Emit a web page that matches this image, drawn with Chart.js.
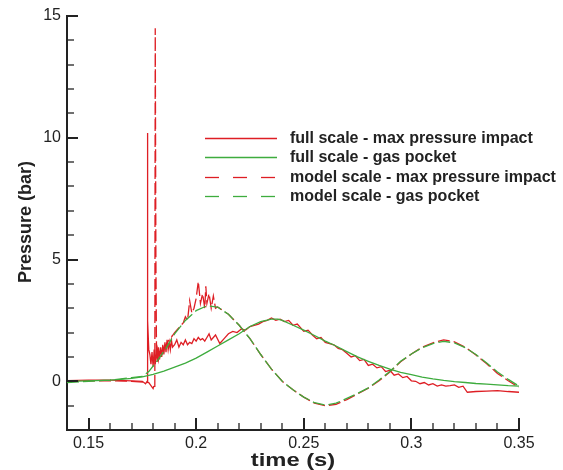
<!DOCTYPE html>
<html>
<head>
<meta charset="utf-8">
<script src="https://cdn.jsdelivr.net/npm/chart.js@4.4.1/dist/chart.umd.min.js"></script>
<style>
  html, body { margin: 0; padding: 0; background: #fff; }
  #wrap { width: 563px; height: 470px; }
</style>
</head>
<body>
<div id="wrap"><canvas id="pressureChart" width="563" height="470"></canvas></div>
<script>
// x axis ticks (s) and y axis ticks (bar)
const xTicks = [0.15, 0.2, 0.25, 0.3, 0.35];
const yTicks = [0, 5, 10, 15];

const seriesNames = [
  'full scale - max pressure impact',
  'full scale - gas pocket',
  'model scale - max pressure impact',
  'model scale - gas pocket'
];

// full scale - max pressure impact
const fullMaxX = [0.14, 0.15, 0.16, 0.17, 0.175, 0.1765, 0.1772, 0.1773, 0.1776, 0.178,
  0.1785, 0.179, 0.1795, 0.18, 0.1805, 0.181, 0.1815, 0.182, 0.1825, 0.183, 0.1835, 0.184,
  0.1845, 0.185, 0.1855, 0.186, 0.1865, 0.187, 0.1875, 0.188, 0.1885, 0.189, 0.19, 0.191,
  0.192, 0.193, 0.194, 0.195, 0.196, 0.197, 0.198, 0.199, 0.2, 0.201, 0.202, 0.203, 0.204,
  0.205, 0.206, 0.207, 0.209, 0.211, 0.213, 0.215, 0.217, 0.219, 0.221, 0.223, 0.225, 0.227,
  0.229, 0.231, 0.233, 0.235, 0.237, 0.239, 0.241, 0.243, 0.245, 0.247, 0.25, 0.252, 0.254,
  0.256, 0.258, 0.26, 0.262, 0.264, 0.266, 0.268, 0.27, 0.272, 0.274, 0.276, 0.278, 0.28,
  0.282, 0.284, 0.286, 0.288, 0.29, 0.292, 0.294, 0.296, 0.298, 0.3, 0.302, 0.304, 0.306,
  0.308, 0.31, 0.312, 0.314, 0.316, 0.318, 0.32, 0.322, 0.324, 0.326, 0.33, 0.335, 0.34,
  0.345, 0.35];
const fullMaxY = [0.03, 0.05, 0.05, 0.02, 0.0, -0.1, 0.0, 10.2, 2.5, 1.3,
  1.1, 0.7, 1.2, 0.6, 1.3, 0.7, 1.3, 0.8, 1.4, 0.9, 1.4, 1.0,
  1.5, 1.1, 1.6, 1.2, 1.7, 1.3, 1.6, 1.3, 1.7, 1.4, 1.5, 1.7,
  1.4, 1.6, 1.5, 1.7, 1.5, 1.6, 1.55, 1.75, 1.65, 1.8, 1.7, 1.75, 1.65,
  1.8, 1.95, 1.7, 1.9, 1.55, 1.75, 1.95, 2.05, 2.0, 2.15, 2.1, 2.25, 2.3,
  2.35, 2.45, 2.5, 2.6, 2.5, 2.55, 2.45, 2.5, 2.3, 2.35, 2.05, 2.1, 1.9,
  1.75, 1.8, 1.6, 1.55, 1.5, 1.35, 1.3, 1.15, 1.0, 1.05, 0.85, 0.9, 0.65,
  0.7, 0.55, 0.6, 0.4, 0.45, 0.25, 0.3, 0.15, 0.2, 0.02, 0.0, -0.1, -0.05,
  -0.15, -0.1, -0.2, -0.15, -0.2, -0.18, -0.15, -0.25, -0.2, -0.45, -0.42, -0.4, -0.38,
  -0.42, -0.45];

// full scale - gas pocket
const fullGasX = [0.14, 0.15, 0.16, 0.165, 0.17, 0.175, 0.18, 0.185, 0.19, 0.195, 0.2,
  0.205, 0.21, 0.215, 0.22, 0.225, 0.23, 0.235, 0.238, 0.24, 0.245, 0.25, 0.255, 0.26, 0.265,
  0.27, 0.275, 0.28, 0.285, 0.29, 0.295, 0.3, 0.305, 0.31, 0.315, 0.32, 0.325, 0.33, 0.335,
  0.34, 0.345, 0.35];
const fullGasY = [0.0, 0.02, 0.05, 0.08, 0.12, 0.18, 0.28, 0.42, 0.58, 0.75, 0.95,
  1.2, 1.45, 1.7, 1.95, 2.25, 2.45, 2.55, 2.55, 2.5, 2.3, 2.1, 1.88, 1.65, 1.45,
  1.22, 1.0, 0.82, 0.65, 0.5, 0.37, 0.27, 0.17, 0.1, 0.04, -0.01, -0.05, -0.09, -0.12,
  -0.15, -0.18, -0.2];

// model scale - max pressure impact
const modelMaxX = [0.14, 0.15, 0.16, 0.17, 0.178, 0.18, 0.1805, 0.1808, 0.181, 0.1813, 0.1816,
  0.182, 0.1825, 0.183, 0.184, 0.185, 0.186, 0.187, 0.188, 0.19, 0.192, 0.194, 0.195, 0.196,
  0.197, 0.198, 0.199, 0.2, 0.201, 0.202, 0.203, 0.204, 0.2045, 0.205, 0.206, 0.207, 0.208,
  0.209, 0.21, 0.215, 0.22, 0.225, 0.23, 0.235, 0.24, 0.245, 0.25, 0.255, 0.26, 0.265, 0.27,
  0.275, 0.28, 0.285, 0.29, 0.295, 0.3, 0.305, 0.31, 0.315, 0.32, 0.325, 0.33, 0.335, 0.34,
  0.345, 0.35];
const modelMaxY = [0.0, 0.02, 0.02, 0.0, -0.05, -0.3, -0.15, -0.25, 14.5, 5.0, 1.0,
  1.3, 0.9, 1.2, 1.1, 1.4, 1.5, 1.65, 1.75, 2.0, 2.2, 2.4, 2.65, 2.5,
  3.3, 2.8, 3.0, 3.4, 4.1, 3.2, 3.6, 3.0, 3.9, 3.2, 3.6, 3.0, 3.5,
  3.0, 3.05, 2.75, 2.3, 1.75, 1.1, 0.5, 0.0, -0.35, -0.65, -0.9, -1.0, -0.95, -0.75,
  -0.52, -0.28, 0.02, 0.38, 0.8, 1.12, 1.4, 1.58, 1.7, 1.62, 1.4, 1.08, 0.72, 0.32,
  0.02, -0.25];

// model scale - gas pocket
const modelGasX = [0.14, 0.15, 0.16, 0.17, 0.175, 0.178, 0.182, 0.186, 0.19, 0.195, 0.2,
  0.205, 0.21, 0.215, 0.22, 0.225, 0.23, 0.235, 0.24, 0.245, 0.25, 0.255, 0.26, 0.265, 0.27,
  0.275, 0.28, 0.285, 0.29, 0.295, 0.3, 0.305, 0.31, 0.315, 0.32, 0.325, 0.33, 0.335, 0.34,
  0.345, 0.35];
const modelGasY = [-0.05, 0.0, 0.05, 0.15, 0.2, 0.4, 0.85, 1.35, 1.95, 2.5, 2.9,
  3.1, 3.05, 2.75, 2.3, 1.75, 1.1, 0.5, 0.0, -0.35, -0.65, -0.88, -0.98, -0.9, -0.7,
  -0.5, -0.27, 0.05, 0.4, 0.82, 1.12, 1.38, 1.55, 1.64, 1.58, 1.38, 1.1, 0.75, 0.38,
  0.08, -0.2];

const RED = 'rgb(222, 30, 36)';
const GREEN = 'rgb(62, 172, 62)';
const AXIS = '#222';

function toPoints(xs, ys) {
  return xs.map((x, i) => ({ x: x, y: ys[i] }));
}

// ticks drawn on the inside of the axes, like the original plot
const innerTicks = {
  id: 'innerTicks',
  afterDraw(chart) {
    const ctx = chart.ctx;
    const xs = chart.scales.x, ys = chart.scales.y;
    const area = chart.chartArea;
    ctx.save();
    ctx.strokeStyle = AXIS;
    for (let i = 14; i <= 35; i++) {
      const v = i / 100;
      const px = Math.round(xs.getPixelForValue(v));
      const major = i % 5 === 0;
      ctx.lineWidth = major ? 2 : 1.3;
      ctx.beginPath();
      ctx.moveTo(px, area.bottom);
      ctx.lineTo(px, area.bottom - (major ? 12 : 7));
      ctx.stroke();
    }
    for (let v = -2; v <= 15; v++) {
      const py = Math.round(ys.getPixelForValue(v));
      const major = v % 5 === 0;
      ctx.lineWidth = major ? 2 : 1.3;
      ctx.beginPath();
      ctx.moveTo(area.left, py);
      ctx.lineTo(area.left + (major ? 11 : 7), py);
      ctx.stroke();
    }
    ctx.restore();
  }
};

// axis titles and the boxed-in legend
const titlesAndLegend = {
  id: 'titlesAndLegend',
  afterDraw(chart) {
    const ctx = chart.ctx;
    ctx.save();
    ctx.fillStyle = AXIS;
    ctx.textAlign = 'center';
    ctx.textBaseline = 'middle';

    ctx.save();
    ctx.translate(26, 222);
    ctx.rotate(-Math.PI / 2);
    ctx.font = 'bold 18px "Liberation Sans", Arial, sans-serif';
    ctx.fillText('Pressure (bar)', 0, 0);
    ctx.restore();

    ctx.save();
    ctx.translate(293, 461);
    ctx.scale(1.25, 1);
    ctx.font = 'bold 19px "Liberation Sans", Arial, sans-serif';
    ctx.fillText('time (s)', 0, 0);
    ctx.restore();

    const styles = [
      { color: RED, dash: [] },
      { color: GREEN, dash: [] },
      { color: RED, dash: [14, 14] },
      { color: GREEN, dash: [14, 14] }
    ];
    const rowY = [138, 157, 177, 196];
    ctx.font = 'bold 16px "Liberation Sans", Arial, sans-serif';
    ctx.textAlign = 'left';
    seriesNames.forEach((name, i) => {
      ctx.strokeStyle = styles[i].color;
      ctx.lineWidth = 1.3;
      ctx.setLineDash(styles[i].dash);
      ctx.beginPath();
      ctx.moveTo(205, rowY[i] + 0.5);
      ctx.lineTo(277, rowY[i] + 0.5);
      ctx.stroke();
      ctx.setLineDash([]);
      ctx.fillText(name, 290, rowY[i] + 1);
    });
    ctx.restore();
  }
};

const ctx = document.getElementById('pressureChart');
new Chart(ctx, {
  type: 'line',
  data: {
    datasets: [
      { label: seriesNames[1], data: toPoints(fullGasX, fullGasY), borderColor: GREEN, borderWidth: 1.3 },
      { label: seriesNames[3], data: toPoints(modelGasX, modelGasY), borderColor: GREEN, borderWidth: 1.3, borderDash: [12, 4] },
      { label: seriesNames[2], data: toPoints(modelMaxX, modelMaxY), borderColor: RED, borderWidth: 1.3, borderDash: [12, 4] },
      { label: seriesNames[0], data: toPoints(fullMaxX, fullMaxY), borderColor: RED, borderWidth: 1.3 }
    ]
  },
  options: {
    responsive: false,
    animation: false,
    layout: { padding: { left: 0, right: 44, top: 16, bottom: 0 } },
    elements: {
      point: { radius: 0 },
      line: { tension: 0, fill: false }
    },
    plugins: {
      legend: { display: false },
      tooltip: { enabled: false }
    },
    scales: {
      x: {
        type: 'linear',
        min: 0.14,
        max: 0.35,
        grid: { display: false, drawTicks: false },
        border: { display: true, color: AXIS, width: 2 },
        afterBuildTicks: (scale) => { scale.ticks = xTicks.map(v => ({ value: v })); },
        afterFit: (scale) => { scale.height = 40; },
        ticks: {
          padding: 4,
          color: AXIS,
          font: { family: '"Liberation Sans", Arial, sans-serif', size: 16 },
          callback: (v) => String(Math.round(v * 100) / 100)
        }
      },
      y: {
        type: 'linear',
        min: -2,
        max: 15,
        grid: { display: false, drawTicks: false },
        border: { display: true, color: AXIS, width: 2 },
        afterBuildTicks: (scale) => { scale.ticks = yTicks.map(v => ({ value: v })); },
        afterFit: (scale) => { scale.width = 67; },
        ticks: {
          padding: 6,
          color: AXIS,
          font: { family: '"Liberation Sans", Arial, sans-serif', size: 16 }
        }
      }
    }
  },
  plugins: [innerTicks, titlesAndLegend]
});
</script>
</body>
</html>
